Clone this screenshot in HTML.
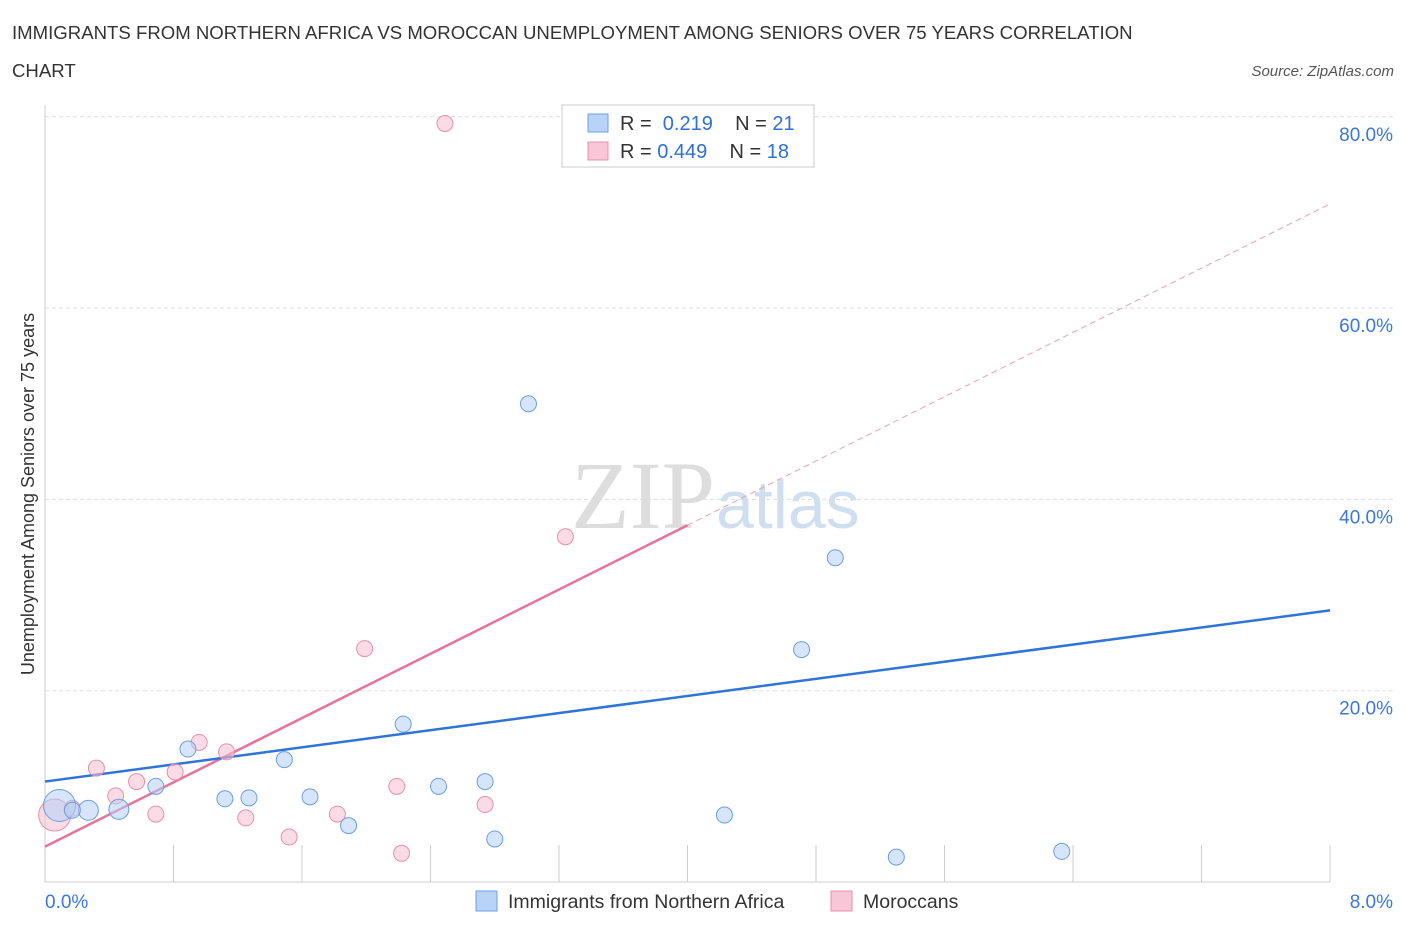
<!DOCTYPE html>
<html><head><meta charset="utf-8"><style>
body{margin:0;background:#fff;font-family:"Liberation Sans",sans-serif;}
</style></head><body>
<svg width="1406" height="930" xmlns="http://www.w3.org/2000/svg" id="chart">
<text x="12" y="39" font-size="18.6" fill="#333">IMMIGRANTS FROM NORTHERN AFRICA VS MOROCCAN UNEMPLOYMENT AMONG SENIORS OVER 75 YEARS CORRELATION</text>
<text x="12" y="77" font-size="18.6" fill="#333">CHART</text>
<text x="1394" y="76" font-size="15" fill="#555" font-style="italic" text-anchor="end">Source: ZipAtlas.com</text>
<text x="715" y="528" font-size="96" fill="#ddd" text-anchor="end" font-family="Liberation Serif">ZIP</text>
<text x="716" y="528" font-size="68" fill="#cfdff0">atlas</text>
<text transform="translate(34,494) rotate(-90)" font-size="18" fill="#333" text-anchor="middle">Unemployment Among Seniors over 75 years</text>
<g id="grid"></g><g id="lines"></g><g id="pts"></g>
<g>
<rect x="562" y="105" width="252" height="62" fill="#fff" stroke="#ccc"/>
<rect x="588" y="114" width="20" height="18" fill="#b8d3f5" stroke="#6a9fe0"/>
<text x="620" y="130" font-size="20" fill="#333">R = <tspan fill="#2f6fd6">&#160;0.219</tspan>&#160;&#160;&#160;&#160;N = <tspan fill="#2f6fd6">21</tspan></text>
<rect x="588" y="142" width="20" height="18" fill="#f8c6d6" stroke="#e890ac"/>
<text x="620" y="158" font-size="20" fill="#333">R = <tspan fill="#2f6fd6">0.449</tspan>&#160;&#160;&#160;&#160;N = <tspan fill="#2f6fd6">18</tspan></text>
</g>
<g>
<rect x="476" y="891" width="21" height="20" fill="#b8d3f5" stroke="#6a9fe0"/>
<text x="508" y="908" font-size="19.5" fill="#333">Immigrants from Northern Africa</text>
<rect x="831" y="891" width="21" height="20" fill="#f8c6d6" stroke="#e890ac"/>
<text x="863" y="908" font-size="19.5" fill="#333">Moroccans</text>
</g>
</svg>
<script>
const yTicks=[20,40,60,80];
const xTickLabels=["0.0%","8.0%"];
const blueX=[0.09,0.27,0.46,0.69,0.89,1.12,1.27,1.49,1.65,1.89,2.23,2.45,2.74,2.80,3.01,4.23,4.71,4.92,5.30,6.33,0.17];
const blueY=[8.0,7.5,7.6,10.0,13.9,8.7,8.8,12.8,8.9,5.9,16.5,10.0,10.5,4.5,50.0,7.0,24.3,33.9,2.6,3.2,7.5];
const pinkX=[0.06,0.17,0.32,0.44,0.57,0.69,0.81,0.96,1.13,1.25,1.52,1.82,1.99,2.19,2.22,2.49,2.74,3.24];
const pinkY=[7.0,7.7,11.9,9.0,10.5,7.1,11.5,14.6,13.6,6.7,4.7,7.1,24.4,10.0,3.0,79.3,8.1,36.1];
const blueLine=[10.5,28.4];
const pinkLine=[3.7,37.3];
const NS="http://www.w3.org/2000/svg";
const X=v=>45+v/8*1285, Y=v=>882-v/20*191.3;
function mk(t,a,p){const e=document.createElementNS(NS,t);for(const k in a)e.setAttribute(k,a[k]);document.getElementById(p).appendChild(e);return e;}
let g;
g=mk('line',{x1:45,x2:45,y1:105,y2:882,stroke:'#ccc'},'grid');

g=mk('line',{x1:45,x2:1330,y1:882,y2:882,stroke:'#ccc'},'grid');

for(let i=1;i<=10;i++){g=mk('line',{x1:45+i*128.5,x2:45+i*128.5,y1:845,y2:882,stroke:'#ccc'},'grid');
}
yTicks.forEach(t=>{g=mk('line',{x1:45,x2:1395,y1:Y(t),y2:Y(t),stroke:'#ddd','stroke-dasharray':'4,3'},'grid');

g=mk('text',{x:1393,y:Y(t)+24,'font-size':19,fill:'#3b78d8','text-anchor':'end'},'grid');g.textContent=t.toFixed(1)+'%';
});
g=mk('text',{x:45,y:908,'font-size':19,fill:'#3b78d8'},'grid');g.textContent=xTickLabels[0];

g=mk('text',{x:1393,y:908,'font-size':19,fill:'#3b78d8','text-anchor':'end'},'grid');g.textContent=xTickLabels[1];

// pink trend: solid to x=4.0, dashed to 8
const pAt=x=>pinkLine[0]+(pinkLine[1]-pinkLine[0])*x/4;
g=mk('line',{x1:X(0),y1:Y(pAt(0)),x2:X(4),y2:Y(pAt(4)),stroke:'#e8739a','stroke-width':2.5},'lines');

g=mk('line',{x1:X(4),y1:Y(pAt(4)),x2:X(8),y2:Y(pAt(8)),stroke:'#e8a0b8','stroke-width':1,'stroke-dasharray':'6,4'},'lines');

g=mk('line',{x1:X(0),y1:Y(blueLine[0]),x2:X(8),y2:Y(blueLine[1]),stroke:'#2f74d6','stroke-width':2.5},'lines');

pinkX.forEach((x,i)=>{g=mk('circle',{cx:X(x),cy:Y(pinkY[i]),r:i==0?16:8,fill:'rgba(248,190,210,0.55)',stroke:'#e890ac','stroke-width':1},'pts');
});
blueX.forEach((x,i)=>{g=mk('circle',{cx:X(x),cy:Y(blueY[i]),r:i==0?16:(i==1||i==2?10:8),fill:'rgba(180,208,245,0.55)',stroke:'#6a9fe0','stroke-width':1},'pts');
});
</script>
</body></html>
